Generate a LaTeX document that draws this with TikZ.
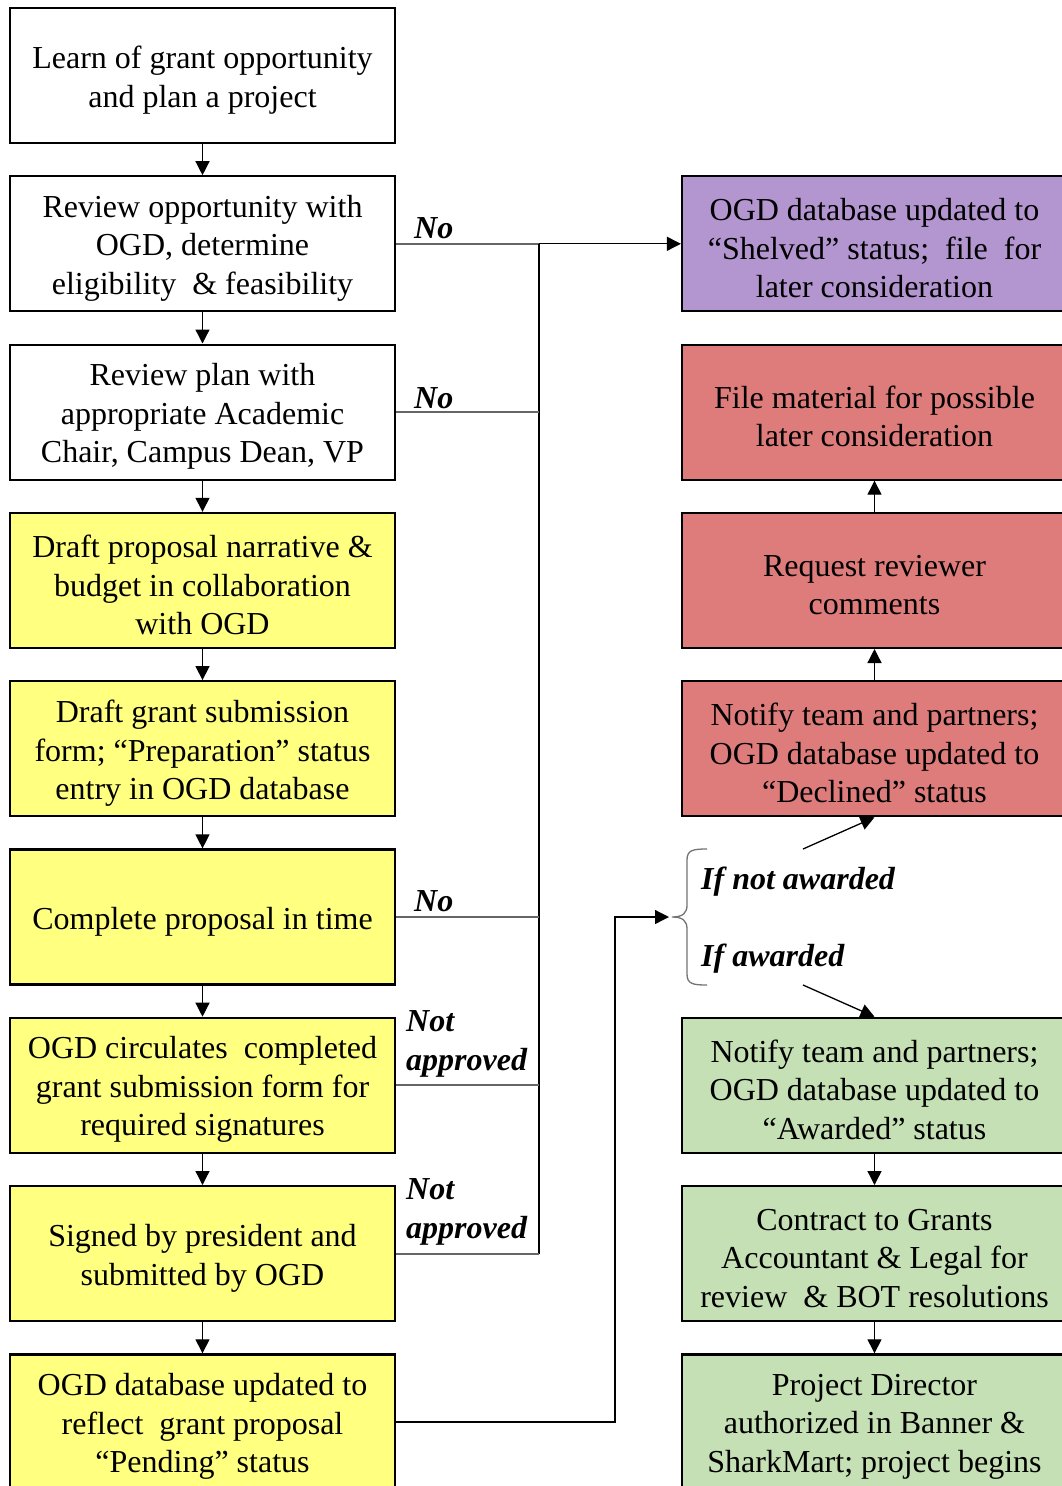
\documentclass[tikz,border=0pt]{standalone}
\usepackage{fontspec}
\setmainfont{Liberation Serif}
\usetikzlibrary{arrows.meta}
\definecolor{cyel}{RGB}{255,255,128}
\definecolor{cpur}{RGB}{179,149,208}
\definecolor{cred}{RGB}{222,124,124}
\definecolor{cgrn}{RGB}{197,224,180}
\newcommand\mybox[4]{%
  \node[#2] (#1) at (#3) {};
  \node[txt] (#1t) at ([yshift=-4.5pt]#1.center) {#4};}
\begin{document}
\begin{tikzpicture}[x=1pt,y=-1pt,
  bx/.style={draw=black, line width=2.2pt, minimum width=385pt, minimum height=135pt, inner sep=0pt},
  txt/.style={inner sep=0pt, align=center, font=\fontsize{32}{38.5}\selectfont},
  wht/.style={bx, fill=white},
  yel/.style={bx, fill=cyel},
  pur/.style={bx, fill=cpur},
  red/.style={bx, fill=cred},
  grn/.style={bx, fill=cgrn},
  arr/.style={line width=1.3pt, -{Triangle[length=14pt,width=14pt]}},
  ln/.style={line width=1.3pt},
  gln/.style={line width=1.8pt, draw=black!60},
  lab/.style={font=\fontsize{32}{38.5}\selectfont\bfseries\itshape, inner sep=0pt, align=left}
]
\useasboundingbox (0,0) rectangle (1061,1486);
% left column
\mybox{b1}{wht}{202.5,75.5}{Learn of grant opportunity\\and plan a project}
\mybox{b2}{wht}{202.5,243.8}{Review opportunity with\\OGD, determine\\eligibility~ \& feasibility}
\mybox{b3}{wht}{202.5,412.1}{Review plan with\\appropriate Academic\\Chair, Campus Dean, VP}
\mybox{b4}{yel}{202.5,580.4}{Draft proposal narrative \&\\budget in collaboration\\with OGD}
\mybox{b5}{yel}{202.5,748.7}{Draft grant submission\\form; “Preparation” status\\entry in OGD database}
\mybox{b6}{yel}{202.5,917}{Complete proposal in time}
\mybox{b7}{yel}{202.5,1085.3}{OGD circulates~ completed\\grant submission form for\\required signatures}
\mybox{b8}{yel}{202.5,1253.6}{Signed by president and\\submitted by OGD}
\mybox{b9}{yel}{202.5,1421.9}{OGD database updated to\\reflect~ grant proposal\\“Pending” status}
% right column
\mybox{p}{pur}{874.5,243.8}{OGD database updated to\\“Shelved” status;~ file~ for\\later consideration}
\mybox{r1}{red}{874.5,412.1}{File material for possible\\later consideration}
\mybox{r2}{red}{874.5,580.4}{Request reviewer\\comments}
\mybox{r3}{red}{874.5,748.7}{Notify team and partners;\\OGD database updated to\\“Declined” status}
\mybox{g1}{grn}{874.5,1085.3}{Notify team and partners;\\OGD database updated to\\“Awarded” status}
\mybox{g2}{grn}{874.5,1253.6}{Contract to Grants\\Accountant \& Legal for\\review~ \& BOT resolutions}
\mybox{g3}{grn}{874.5,1421.9}{Project Director\\authorized in Banner \&\\SharkMart; project begins}
% down arrows left
\foreach \a/\b in {b1/b2,b2/b3,b3/b4,b4/b5,b5/b6,b6/b7,b7/b8,b8/b9}
  \draw[arr] (\a.south) -- (\b.north);
% right arrows
\draw[arr] (r3.north) -- (r2.south);
\draw[arr] (r2.north) -- (r1.south);
\draw[arr] (g1.south) -- (g2.north);
\draw[arr] (g2.south) -- (g3.north);
% rejection bus
\coordinate (jt) at (539,243.8);
\coordinate (jb) at (539,1253.6);
\draw[gln] (b2.east) -- (jt);
\draw[arr] (jt) -- (p.west);
\draw[ln] (jt) -- (jb);
\foreach \a in {b3,b6,b7,b8}
  \draw[gln] (\a.east) -- (\a.east -| jt);
% labels
\node[lab, anchor=base west] (n1) at (414,238) {No};
\node[lab, anchor=base west] (n2) at (414,408) {No};
\node[lab, anchor=base west] (n3) at (414,911) {No};
\node[lab, anchor=base west] (n4) at (406,1070) {Not\\approved};
\node[lab, anchor=base west] (n5) at (406,1238) {Not\\approved};
% pending -> brace
\coordinate (k) at (615,1421.9);
\coordinate (bt) at (669,917);
\draw[arr] (b9.east) -- (k) |- (bt);
\draw[line width=1.3pt, black!55] (707,849) .. controls (693,849) and (687,850) .. (687,860) -- (687,905)
  .. controls (687,913) and (683,917) .. (672,917) .. controls (683,917) and (687,921) .. (687,929)
  -- (687,974) .. controls (687,984) and (693,985) .. (707,985);
\node[lab, anchor=base west] (na) at (701,889) {If not awarded};
\node[lab, anchor=base west] (aw) at (701,966) {If awarded};
\coordinate (d1) at (803,849);
\coordinate (d2) at (803,985);
\draw[arr] (d1) -- (r3.south);
\draw[arr] (d2) -- (g1.north);
\end{tikzpicture}
\end{document}
